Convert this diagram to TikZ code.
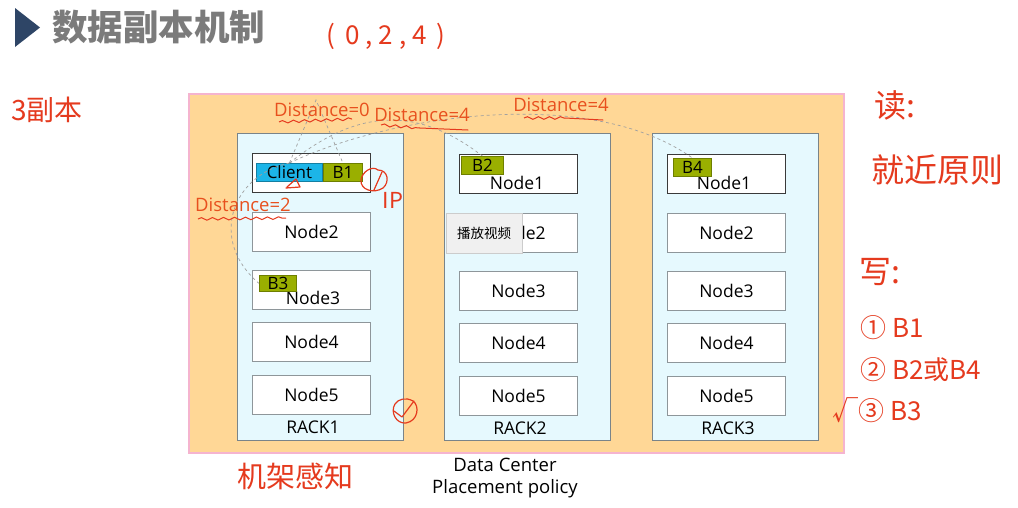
\documentclass[tikz,border=0pt]{standalone}
\usepackage{fontspec}
\setmainfont{Open Sans}
\newfontfamily\cjk{Noto Sans CJK SC}
\usetikzlibrary{decorations.pathmorphing}
\definecolor{orangebg}{HTML}{FFD796}
\definecolor{pinkbd}{HTML}{F5B4CF}
\definecolor{rackfill}{HTML}{E6F9FE}
\definecolor{rackbd}{HTML}{7A8489}
\definecolor{nodebd}{HTML}{8E969A}
\definecolor{darkbd}{HTML}{3A3A3A}
\definecolor{clientc}{HTML}{1CB5E8}
\definecolor{blockc}{HTML}{9AAF00}
\definecolor{blockbd}{HTML}{6E7F00}
\definecolor{inkred}{HTML}{E53A1E}
\definecolor{distred}{HTML}{E8501E}
\definecolor{titletri}{HTML}{2E4566}
\definecolor{titletxt}{HTML}{7B7B7B}
\definecolor{dashc}{HTML}{A0A0A0}
\begin{document}
\begin{tikzpicture}[x=1pt,y=-1pt,
  rackbox/.style={draw=rackbd,fill=rackfill,line width=0.9pt,minimum width=166pt,minimum height=307pt,anchor=north west,inner sep=0pt},
  nodebox/.style={draw=nodebd,fill=white,line width=0.9pt,minimum width=118pt,minimum height=39pt,anchor=north west,inner sep=0pt,font=\fontsize{17.5}{19}\selectfont},
  firstbox/.style={nodebox,draw=darkbd,line width=1.1pt},
  lbl/.style={font=\fontsize{17.5}{19}\selectfont,inner sep=0pt},
  blk/.style={draw=blockbd,fill=blockc,line width=0.8pt,minimum height=18pt,anchor=north west,inner sep=0pt,font=\fontsize{17}{18}\selectfont},
  dist/.style={text=distred,font=\fontsize{18.5}{20}\selectfont,inner sep=0pt},
  hand/.style={text=inkred,font=\cjk\fontsize{28}{30}\selectfont,inner sep=0pt},
  squig/.style={draw=inkred,line width=1pt,decorate,decoration={snake,amplitude=1.3pt,segment length=11pt}},
  ink/.style={draw=inkred,line width=1.2pt,line cap=round,line join=round},
  conn/.style={draw=dashc,dashed,line width=0.7pt}]
\useasboundingbox (0,0) rectangle (1018,507);
\fill[white] (0,0) rectangle (1018,507);
% title
\fill[titletri] (15,8) -- (40,27.5) -- (15,47) -- cycle;
\node[anchor=west,text=titletxt,font=\cjk\bfseries\fontsize{35.5}{37}\selectfont,inner sep=0pt] (title) at (52,27) {数据副本机制};
\node[hand,font=\cjk\fontsize{26}{28}\selectfont] (tuple) at (386,36) {(\, 0 , 2 , 4 \,)};
% outer data center
\node[draw=pinkbd,fill=orangebg,line width=1.5pt,minimum width=655pt,minimum height=359pt,anchor=north west,inner sep=0pt] (dc) at (188,93) {};
% racks
\node[rackbox] (rack1) at (237,133) {};
\node[rackbox] (rack2) at (444,133) {};
\node[rackbox] (rack3) at (652,133) {};
\node[lbl] (rack1l) at (313,427) {RACK1};
\node[lbl] (rack2l) at (520,428) {RACK2};
\node[lbl] (rack3l) at (728,428) {RACK3};
% rack1 nodes
\node[firstbox] (r1n1) at (252,153) {};
\node[nodebox] (r1n2) at (252,212) {Node2};
\node[nodebox] (r1n3) at (252,270) {};
\node[lbl] (r1n3l) at (313,298) {Node3};
\node[nodebox] (r1n4) at (252,322) {Node4};
\node[nodebox] (r1n5) at (252,375) {Node5};
% rack2 nodes
\node[firstbox] (r2n1) at (459,154) {};
\node[lbl] (r2n1l) at (517,183) {Node1};
\node[nodebox] (r2n2) at (459,213) {Node2};
\node[nodebox] (r2n3) at (459,271) {Node3};
\node[nodebox] (r2n4) at (459,323) {Node4};
\node[nodebox] (r2n5) at (459,376) {Node5};
% rack3 nodes
\node[firstbox] (r3n1) at (667,154) {};
\node[lbl] (r3n1l) at (724,183) {Node1};
\node[nodebox] (r3n2) at (667,213) {Node2};
\node[nodebox] (r3n3) at (667,271) {Node3};
\node[nodebox] (r3n4) at (667,323) {Node4};
\node[nodebox] (r3n5) at (667,376) {Node5};
% blocks
\node[blk,draw=clientc!70!black,fill=clientc,minimum width=66pt] (client) at (256,163) {Client};
\node[blk,minimum width=39pt] (B1) at (323,163) {B1};
\node[blk,minimum width=42pt] (B2) at (461,156) {B2};
\node[blk,minimum width=38pt] (B4) at (673,158) {B4};
\node[blk,minimum width=37pt,minimum height=16pt] (B3) at (259,275) {B3};
% popup
\node[draw=black!20,fill=black!6,minimum width=76pt,minimum height=40pt,anchor=north west,inner sep=0pt,font=\cjk\fontsize{13.5}{15}\selectfont] (popup) at (446,213) {播放视频};
% dashed connectors
\coordinate (apex0) at (316,100);
\draw[conn] (client.north) -- (apex0) -- (B1.north);
\draw[conn] (client.north) .. controls (350,115) and (410,100) .. (B2.north);
\draw[conn] (client.north) .. controls (390,115) and (590,85) .. (B4.north);
\draw[conn] (client.north) .. controls (232,175) and (208,240) .. (B3.west);
% distance labels
\node[dist] (d0) at (322,110) {Distance=0};
\node[dist] (d4a) at (422,115) {Distance=4};
\node[dist] (d4b) at (561,105) {Distance=4};
\node[dist] (d2) at (243,205) {Distance=2};
\draw[squig] (279,122) -- (352,119);
\draw[squig] (381,125) -- (420,128);
\draw[ink,line width=1pt] (420,128) -- (468,130);
\draw[squig] (524,118) -- (565,118);
\draw[ink,line width=1pt] (565,118) -- (603,120);
\draw[squig] (198,219) -- (286,218);
% hand annotations
\draw[ink] (287,187) -- (296,179) -- (300,187) -- (286,188);
\draw[ink] (378,170) .. controls (372,165) and (362,172) .. (361,180) .. controls (360,190) and (374,194) .. (383,188) .. controls (390,182) and (388,170) .. (378,170);
\draw[ink] (382,172) -- (374,190);
\node[hand,font=\cjk\fontsize{22}{24}\selectfont] (ip) at (393,200) {IP};
\draw[ink] (395,404) .. controls (390,412) and (396,424) .. (406,423) .. controls (418,421) and (420,406) .. (413,401) .. controls (406,397) and (398,399) .. (395,404);
\draw[ink] (394,411) -- (402,417) -- (414,401);
\node[hand] (three) at (47,110) {3副本};
\node[hand,font=\cjk\fontsize{32}{34}\selectfont] (read) at (895,105) {读:};
\node[hand,font=\cjk\fontsize{33}{35}\selectfont] (near) at (937,170) {就近原则};
\node[hand,font=\cjk\fontsize{32}{34}\selectfont] (write) at (880,272) {写:};
\node[hand,font=\cjk\fontsize{26}{28}\selectfont,anchor=west] (w1) at (860,328) {① B1};
\node[hand,font=\cjk\fontsize{26}{28}\selectfont,anchor=west] (w2) at (860,370) {② B2或B4};
\node[hand,font=\cjk\fontsize{26}{28}\selectfont,anchor=west] (w3) at (832,410) {√③ B3};
\node[hand,font=\cjk\fontsize{29}{31}\selectfont] (rackaware) at (295,476) {机架感知};
% caption
\node[font=\fontsize{18.5}{22}\selectfont,align=center,inner sep=0pt] (caption) at (505,478) {Data Center\\Placement policy};
\end{tikzpicture}
\end{document}
